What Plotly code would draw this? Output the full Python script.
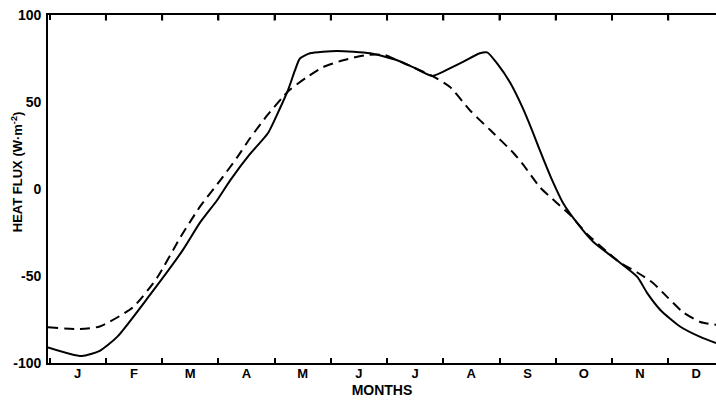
import plotly.graph_objects as go

# month positions (0 = start of January, 12 = end of December)
solid_x = [-0.03, 0.57, 0.89, 1.20, 1.78, 2.37, 2.67, 2.98, 3.21, 3.56, 3.88, 4.09, 4.24, 4.36, 4.45,
           4.63, 5.11, 5.70, 6.18, 6.46, 6.80, 7.00, 7.35, 7.65, 7.78, 7.96, 8.19, 8.42, 8.60,
           8.72, 8.91, 9.13, 9.38, 9.67, 10.09, 10.45, 10.63, 10.86, 11.21, 11.57, 11.85]
solid_y = [-91, -96, -93, -85, -61, -35, -19.5, -6.3, 5, 20, 32, 46, 57, 68, 75,
           78, 79.3, 78, 74, 70, 65, 67.5, 73, 78, 78.5, 72, 61, 46, 32,
           22, 7, -8, -19.5, -30.5, -41, -50.5, -60, -69.5, -79, -85, -88.5]

dash_x = [-0.03, 0.54, 0.89, 1.48, 1.91, 2.32, 2.67, 3.08, 3.33, 3.56, 3.86, 4.15, 4.27, 4.58,
          4.86, 5.22, 5.64, 5.96, 6.18, 6.46, 6.80, 7.12, 7.48, 7.83, 8.24, 8.42, 8.72, 9.02,
          9.26, 9.56, 9.91, 10.15, 10.45, 10.73, 10.98, 11.27, 11.57, 11.85]
dash_y = [-79.5, -80.5, -79, -68, -51, -28, -10.3, 7, 18, 29, 42, 53, 57, 64.4,
          70, 74, 77, 77, 74, 70, 65, 58.6, 45, 34, 21, 14, 1, -8,
          -15, -26, -36, -42.5, -48, -54, -62, -71, -76.4, -78]

month_labels = ["J", "F", "M", "A", "M", "J", "J", "A", "S", "O", "N", "D"]
month_starts = list(range(12))  # tick at each month start; label shifted to month centre
month_bounds = list(range(1, 12))
y_ticks = [-100, -50, 0, 50, 100]

FONT = "Liberation Sans, Arial, sans-serif"
XR = [-0.03, 11.85]

fig = go.Figure()
fig.add_trace(go.Scatter(x=dash_x, y=dash_y, mode="lines",
                         line=dict(color="black", width=2, dash="10px,6px", shape="spline", smoothing=0.6),
                         showlegend=False))
fig.add_trace(go.Scatter(x=solid_x, y=solid_y, mode="lines",
                         line=dict(color="black", width=2, shape="spline", smoothing=0.6),
                         showlegend=False))

# inside tick marks along the top frame line, at the month boundaries
top_ticks = [dict(type="line", xref="x", yref="paper", x0=b, x1=b, y0=1, y1=0.984,
                  layer="above", line=dict(color="black", width=2)) for b in month_bounds]

fig.update_layout(
    template="none",
    width=716, height=400,
    margin=dict(l=48, r=0, t=15, b=37),
    plot_bgcolor="white", paper_bgcolor="white",
    font=dict(family=FONT, color="black"),
    shapes=top_ticks,
    xaxis=dict(
        range=XR, showgrid=False, zeroline=False, automargin=False,
        showline=True, linecolor="black", linewidth=2, mirror="ticks",
        tickmode="array", tickvals=month_starts,
        ticktext=["<b>%s</b>" % m for m in month_labels], ticklabelshift=28,
        ticklabelstandoff=-3,
        ticks="inside", ticklen=5, tickwidth=2, tickcolor="black",
        tickfont=dict(size=13),
        title=dict(text="<b>MONTHS</b>", font=dict(size=14), standoff=6),
    ),
    yaxis=dict(
        range=[-100, 100], showgrid=False, zeroline=False, automargin=False,
        showline=True, linecolor="black", linewidth=2,
        tickmode="array", tickvals=y_ticks,
        ticktext=["<b>%d</b>\u00a0" % v for v in y_ticks],
        ticks="", ticklabelstandoff=-2,
        tickfont=dict(size=14),
    ),
    annotations=[dict(
        text="<b>HEAT FLUX (W·m<sup>-2</sup>)</b>", textangle=-90,
        xref="paper", yref="paper", x=-0.047, y=0.55, xanchor="center", yanchor="middle",
        showarrow=False, font=dict(size=13, family=FONT),
    )],
)

fig.write_html("out.html", post_script="document.body.style.margin='0';",
               config={"displayModeBar": False})
